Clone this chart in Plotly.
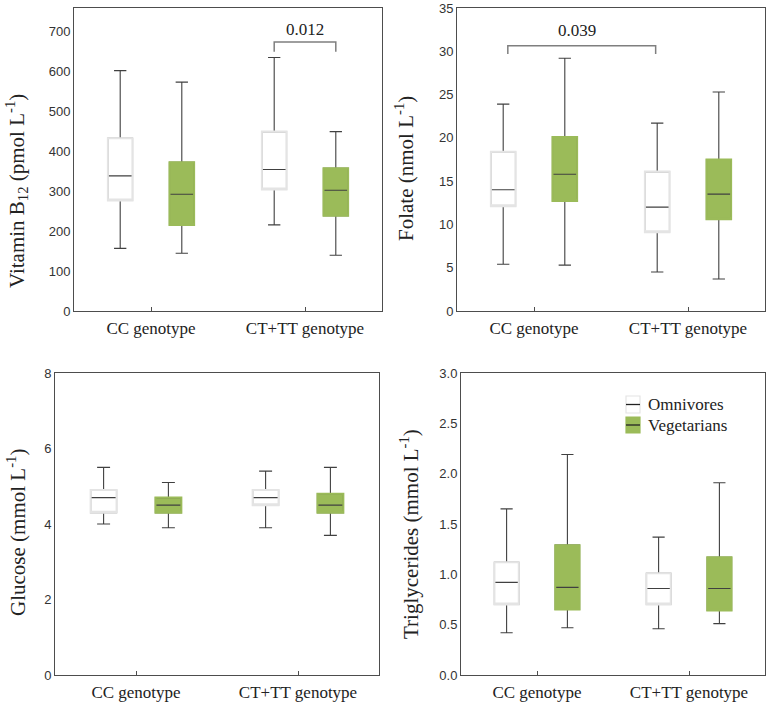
import plotly.graph_objects as go

W, H = 767, 705

categories = ["CC genotype", "CT+TT genotype"]
cat_pos = [0, 1]
groups = ["Omnivores", "Vegetarians"]

# five-number summaries per genotype: [lower whisker, Q1, median, Q3, upper whisker]
b12_omni = [[157, 277, 339, 433, 603], [216, 305, 355, 450, 636]]
b12_veg = [[145, 216, 293, 373, 574], [140, 239, 303, 358, 450]]
fol_omni = [[5.4, 12.1, 14.0, 18.4, 23.9], [4.5, 9.1, 12.0, 16.1, 21.7]]
fol_veg = [[5.3, 12.7, 15.8, 20.1, 29.2], [3.7, 10.6, 13.5, 17.5, 25.3]]
glu_omni = [[4.0, 4.3, 4.7, 4.9, 5.5], [3.9, 4.5, 4.7, 4.9, 5.4]]
glu_veg = [[3.9, 4.3, 4.5, 4.7, 5.1], [3.7, 4.3, 4.5, 4.8, 5.5]]
tg_omni = [[0.42, 0.70, 0.92, 1.12, 1.65], [0.46, 0.70, 0.86, 1.01, 1.37]]
tg_veg = [[0.47, 0.65, 0.87, 1.29, 2.19], [0.51, 0.64, 0.86, 1.17, 1.91]]

y_titles = [
    "Vitamin B<sub>12</sub> (pmol L<sup>-1</sup>)",
    "Folate (nmol L<sup>-1</sup>)",
    "Glucose (mmol L<sup>-1</sup>)",
    "Triglycerides (mmol L<sup>-1</sup>)",
]
y_ranges = [[0, 760], [0, 35], [0, 8], [0, 3]]
y_dticks = [100, 5, 2, 0.5]
y_tickformats = ["d", "d", "d", ".1f"]

# significance brackets
p_labels = ["0.012", "0.039"]
p_panels = [0, 1]
p_left = [0.8, -0.17]
p_right = [1.2, 0.79]
p_top = [675, 30.65]
p_leg = [650, 29.7]
p_text_x = [1.0, 0.28]
p_text_y = [706, 32.45]

# ---------- styling ----------
SERIF = "Liberation Serif, Times New Roman, serif"
SANS = "Liberation Sans, Arial, sans-serif"
GREEN = "#9bbb59"
OMNI_EDGE = "#e4e4e4"
DARK = "#404040"
FRAME = "#4d4d4d"
BOX_W = 0.16
OFFSET = 0.2

x_dom_px = [[74, 382], [457, 765], [55, 379], [461, 765]]
y_dom_px = [[8, 311], [8, 311], [373, 675], [373, 675]]
title_px = [(16, 191), (404, 169), (16, 533), (409, 534)]

panels = [(b12_omni, b12_veg), (fol_omni, fol_veg), (glu_omni, glu_veg), (tg_omni, tg_veg)]

fig = go.Figure()


def add_group(i, stats, pos, fill, edge):
    xa = "x" if i == 0 else f"x{i+1}"
    ya = "y" if i == 0 else f"y{i+1}"
    low = [s[0] for s in stats]
    q1 = [s[1] for s in stats]
    med = [s[2] for s in stats]
    q3 = [s[3] for s in stats]
    high = [s[4] for s in stats]
    # whiskers, caps, median (dark)
    fig.add_trace(go.Box(
        x=pos, q1=q1, median=med, q3=q3, lowerfence=low, upperfence=high,
        orientation="v", width=BOX_W, whiskerwidth=0.5, fillcolor=fill,
        line=dict(color=DARK, width=1.1), boxpoints=False,
        xaxis=xa, yaxis=ya, showlegend=False, hoverinfo="skip"))
    # box outline in group colour
    fig.add_trace(go.Box(
        x=pos, q1=q1, median=q1, q3=q3, lowerfence=q1, upperfence=q3,
        orientation="v", width=BOX_W, whiskerwidth=0, fillcolor="rgba(0,0,0,0)",
        line=dict(color=edge, width=2.0), boxpoints=False,
        xaxis=xa, yaxis=ya, showlegend=False, hoverinfo="skip"))


for i, (omni, veg) in enumerate(panels):
    add_group(i, omni, [c - OFFSET for c in cat_pos], "white", OMNI_EDGE)
    add_group(i, veg, [c + OFFSET for c in cat_pos], GREEN, GREEN)

layout = dict(
    width=W, height=H, margin=dict(l=0, r=0, t=0, b=0, autoexpand=False),
    paper_bgcolor="white", plot_bgcolor="white", boxmode="overlay",
    showlegend=False,
)

annotations = []
shapes = []
for i in range(4):
    sx = "" if i == 0 else str(i + 1)
    xd = [x_dom_px[i][0] / W, x_dom_px[i][1] / W]
    yd = [1 - y_dom_px[i][1] / H, 1 - y_dom_px[i][0] / H]
    layout["xaxis" + sx] = dict(
        domain=xd, anchor="y" + sx, range=[-0.5, 1.5], automargin=False,
        tickvals=cat_pos, ticktext=categories, ticks="inside", ticklen=4,
        ticklabelstandoff=2,
        tickcolor=FRAME, tickfont=dict(family=SERIF, size=17, color="#222"),
        showline=True, mirror=True, linecolor=FRAME, linewidth=1,
        showgrid=False, zeroline=False, fixedrange=True,
    )
    layout["yaxis" + sx] = dict(
        domain=yd, anchor="x" + sx, range=y_ranges[i], dtick=y_dticks[i], tick0=0,
        tickformat=y_tickformats[i], ticks="", automargin=False,
        tickfont=dict(family=SANS, size=13, color="#333"),
        showline=True, mirror=True, linecolor=FRAME, linewidth=1,
        showgrid=False, zeroline=False, fixedrange=True,
    )
    tx, ty = title_px[i]
    annotations.append(dict(
        text=y_titles[i], xref="paper", yref="paper", x=tx / W, y=1 - ty / H,
        xanchor="center", yanchor="middle", textangle=-90, showarrow=False,
        font=dict(family=SERIF, size=21, color="#222"),
    ))

for k in range(len(p_labels)):
    i = p_panels[k]
    sx = "" if i == 0 else str(i + 1)
    shapes.append(dict(
        type="path", xref="x" + sx, yref="y" + sx,
        path=(f"M {p_left[k]},{p_leg[k]} L {p_left[k]},{p_top[k]} "
              f"L {p_right[k]},{p_top[k]} L {p_right[k]},{p_leg[k]}"),
        line=dict(color="#7f7f7f", width=1.5),
    ))
    annotations.append(dict(
        text=p_labels[k], xref="x" + sx, yref="y" + sx, x=p_text_x[k], y=p_text_y[k],
        showarrow=False, font=dict(family=SERIF, size=17, color="#222"),
    ))

# legend (drawn in panel 4)
leg_x0, leg_x1 = 626, 640
leg_rows = [(396, 413, "white", OMNI_EDGE), (417, 433, GREEN, GREEN)]
for (y0, y1, fill, edge), name in zip(leg_rows, groups):
    shapes.append(dict(type="rect", xref="paper", yref="paper",
                       x0=leg_x0 / W, x1=leg_x1 / W, y0=1 - y1 / H, y1=1 - y0 / H,
                       fillcolor=fill, line=dict(color=edge, width=1.2)))
    ym = (y0 + y1) / 2
    shapes.append(dict(type="line", xref="paper", yref="paper",
                       x0=leg_x0 / W, x1=leg_x1 / W, y0=1 - ym / H, y1=1 - ym / H,
                       line=dict(color="#222", width=1.3)))
    annotations.append(dict(
        text=name, xref="paper", yref="paper", x=646 / W, y=1 - ym / H,
        xanchor="left", yanchor="middle", showarrow=False,
        font=dict(family=SERIF, size=17, color="#222"),
    ))

layout["annotations"] = annotations
layout["shapes"] = shapes
fig.update_layout(**layout)

fig.write_html("out.html")
